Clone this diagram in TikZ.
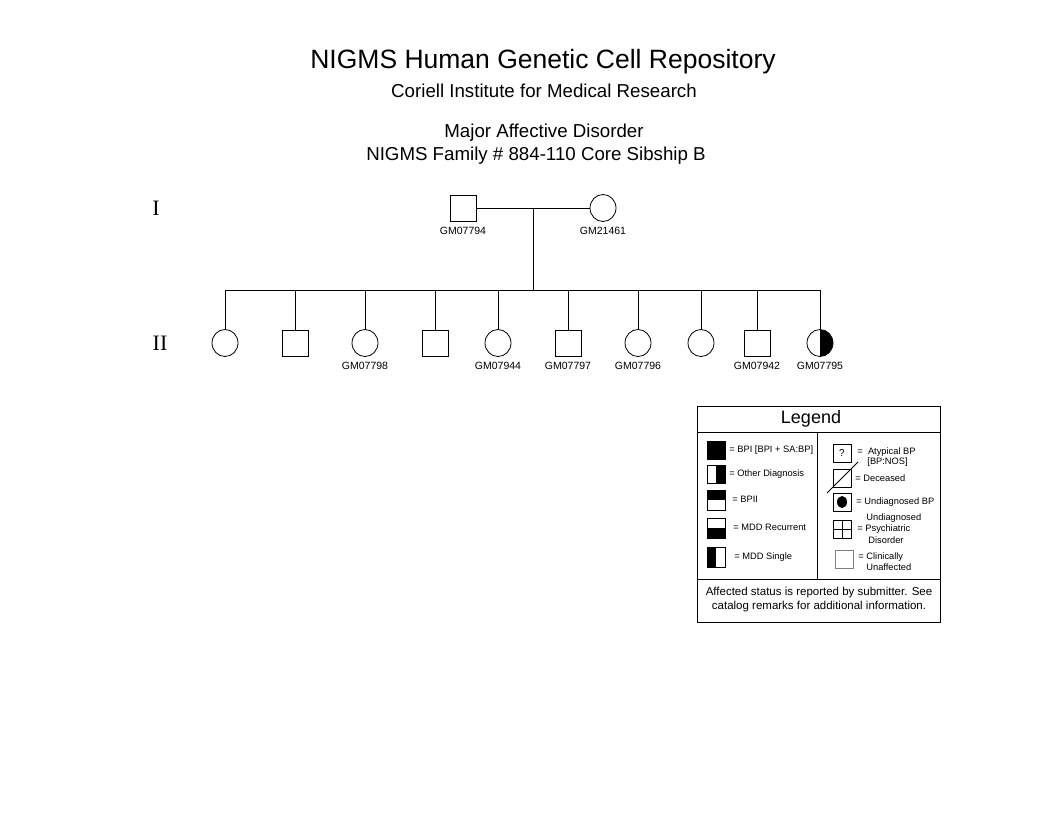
\documentclass[tikz,border=0pt]{standalone}
\usepackage{fontspec}
\setmainfont{Liberation Sans}
\newfontfamily\romanfont{Liberation Serif}
\usetikzlibrary{shapes.geometric}
\begin{document}
\begin{tikzpicture}[x=1pt,y=-1pt, line width=0.8pt,
  male/.style={draw, rectangle, minimum size=26pt, inner sep=0pt},
  female/.style={draw, ellipse, minimum width=26pt, minimum height=27pt, inner sep=0pt},
  lbl/.style={font=\fontsize{10.5}{12}\selectfont, inner sep=0pt},
  gen/.style={font=\romanfont\fontsize{22}{24}\selectfont, inner sep=0pt},
  ttl/.style={font=\fontsize{18.7}{20}\selectfont, inner sep=0pt},
  lsym/.style={draw, rectangle, minimum size=18pt, inner sep=0pt},
  ltxt/.style={font=\fontsize{9.3}{11}\selectfont, inner sep=0pt, anchor=west},
  ppb/.style={path picture bounding box}
]
\useasboundingbox (0,0) rectangle (1056,816);
\fill[white] (0,0) rectangle (1056,816);

% titles
\node[font=\fontsize{26.5}{28}\selectfont, inner sep=0pt] (t1) at (543,62) {NIGMS Human Genetic Cell Repository};
\node[ttl] (t2) at (544,91) {Coriell Institute for Medical Research};
\node[ttl] (t3) at (544,133) {Major Affective Disorder};
\node[ttl] (t4) at (536,156) {NIGMS Family \# 884-110 Core Sibship B};

% generation labels
\node[gen] (gI) at (156,208) {I};
\node[gen] (gII) at (160,343) {II};

% generation I
\node[male] (f1) at (463,208) {};
\node[female] (m1) at (603,208) {};
\node[lbl] (lf1) at (463,231) {GM07794};
\node[lbl] (lm1) at (603,231) {GM21461};
\draw (f1.east) -- (m1.west);
\coordinate (d1) at (533,208);
\coordinate (s1) at (533,290);
\draw (d1) -- (s1);

% generation II
\node[female] (c1) at (225,343) {};
\node[male] (c2) at (295,343) {};
\node[female] (c3) at (365,343) {};
\node[male] (c4) at (435,343) {};
\node[female] (c5) at (498,343) {};
\node[male] (c6) at (568,343) {};
\node[female] (c7) at (638,343) {};
\node[female] (c8) at (701,343) {};
\node[male] (c9) at (757,343) {};
\node[female, path picture={\fill[black] (path picture bounding box.north) rectangle (path picture bounding box.south east);}] (c10) at (820,343) {};
\draw (c1 |- s1) -- (c10 |- s1);
\foreach \c in {c1,c2,c3,c4,c5,c6,c7,c8,c9,c10} \draw (\c |- s1) -- (\c.north);
\node[lbl] (l3) at (365,366) {GM07798};
\node[lbl] (l5) at (498,366) {GM07944};
\node[lbl] (l6) at (568,366) {GM07797};
\node[lbl] (l7) at (638,366) {GM07796};
\node[lbl] (l9) at (757,366) {GM07942};
\node[lbl] (l10) at (820,366) {GM07795};

% legend frame
\draw (697,406) rectangle (940,622);
\draw (697,432) -- (940,432);
\draw (697,579) -- (940,579);
\draw (817,432) -- (817,579);
\node[font=\fontsize{18}{20}\selectfont, inner sep=0pt] (lg) at (811,419) {Legend};

% legend left column
\node[lsym, fill=black] (k1) at (716,450) {};
\node[ltxt] at (729,450) {= BPI [BPI + SA:BP]};
\node[lsym, path picture={\fill[black] (path picture bounding box.north) rectangle (path picture bounding box.south east);}] (k2) at (716,474) {};
\node[ltxt] at (729,474) {= Other Diagnosis};
\node[lsym, minimum height=20pt, path picture={\fill[black] (path picture bounding box.north west) rectangle (path picture bounding box.east);}] (k3) at (716,500) {};
\node[ltxt] at (732,499) {= BPII};
\node[lsym, minimum height=20pt, path picture={\fill[black] (path picture bounding box.west) rectangle (path picture bounding box.south east);}] (k4) at (716,528) {};
\node[ltxt] at (733,527) {= MDD Recurrent};
\node[lsym, minimum height=20pt, path picture={\fill[black] (path picture bounding box.north west) rectangle (path picture bounding box.south);}] (k5) at (716,557) {};
\node[ltxt] at (734,557) {= MDD Single};

% legend right column
\node[lsym, font=\fontsize{10}{12}\selectfont] (k6) at (842,453) {?};
\node[ltxt] at (857,452) {=\ \ Atypical BP};
\node[ltxt] at (867,462) {[BP:NOS]};
\node[lsym] (k7) at (842,478) {};
\draw (827,493) -- (858,462);
\node[ltxt] at (855,478) {= Deceased};
\node[lsym, path picture={\fill[black] (path picture bounding box.center) ellipse (5pt and 6pt);}] (k8) at (842,502) {};
\node[ltxt] at (856,502) {= Undiagnosed BP};
\node[lsym, path picture={\draw (path picture bounding box.north) -- (path picture bounding box.south); \draw (path picture bounding box.west) -- (path picture bounding box.east);}] (k9) at (842,529) {};
\node[ltxt] at (866,518) {Undiagnosed};
\node[ltxt] at (857,529) {= Psychiatric};
\node[ltxt] at (868,540) {Disorder};
\node[lsym, draw=gray] (k10) at (844,559) {};
\node[ltxt] at (858,557) {= Clinically};
\node[ltxt] at (866,567) {Unaffected};

% legend footer
\node[font=\fontsize{11.5}{14}\selectfont, inner sep=0pt, align=center] (ft) at (819,600) {Affected status is reported by submitter. See\\catalog remarks for additional information.};
\end{tikzpicture}
\end{document}
